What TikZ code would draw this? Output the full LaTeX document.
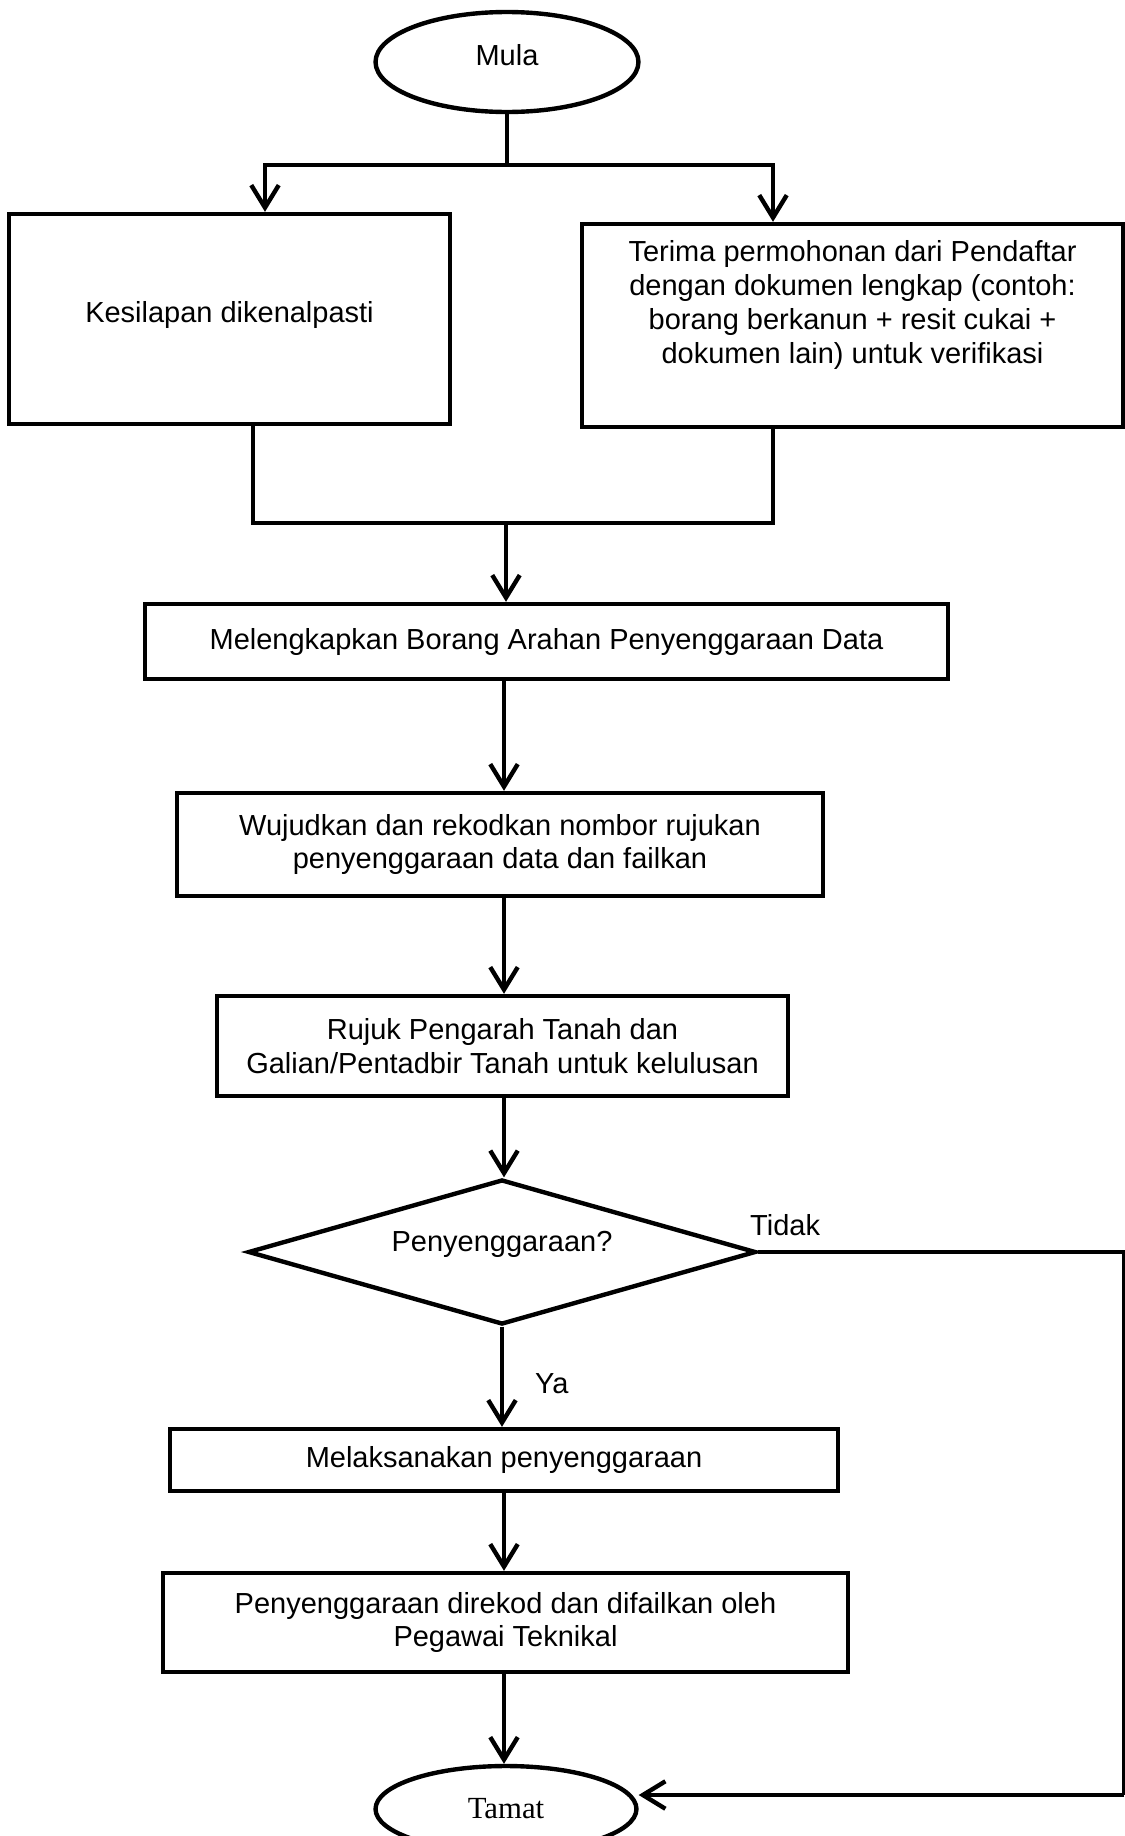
\documentclass[tikz,border=0pt]{standalone}
\usepackage{fontspec}
\setmainfont{Liberation Sans}
\newfontfamily\serifteks{Liberation Serif}
\usetikzlibrary{shapes.geometric,arrows.meta}
\begin{document}
\begin{tikzpicture}[x=0.02cm, y=-0.02cm, line width=2.5pt,
    >={Straight Barb[length=4.5mm,width=5.5mm]},
    every node/.style={font=\fontsize{16.5}{19.3}\selectfont},
    kotak/.style={draw, rectangle, align=center, inner sep=0pt},
    bujur/.style={draw, ellipse, inner sep=0pt},
    pilih/.style={draw, diamond, inner sep=0pt, shape aspect=3.5}]
\useasboundingbox (0,0) rectangle (1125,1836);

% mula dan dua cabang
\node[bujur, minimum width=5.26cm, minimum height=2cm, text depth=0.28cm] (mula) at (507,62) {Mula};
\node[kotak, minimum width=8.82cm, minimum height=4.2cm, text depth=0.27cm] (kesilapan) at (229.5,319) {Kesilapan dikenalpasti};
\node[kotak, minimum width=10.82cm, minimum height=4.06cm] (terima) at (852.5,325.5) {};
\node[align=center] (terimateks) at (852.5,305) {Terima permohonan dari Pendaftar\\dengan dokumen lengkap (contoh:\\borang berkanun + resit cukai +\\dokumen lain) untuk verifikasi};

% aliran utama
\node[kotak, minimum width=16.06cm, minimum height=1.5cm] (borang) at (546.5,641.5) {Melengkapkan Borang Arahan Penyenggaraan Data};
\node[kotak, minimum width=12.92cm, minimum height=2.06cm] (rujukan) at (500,844.5) {Wujudkan dan rekodkan nombor rujukan\\penyenggaraan data dan failkan};
\node[kotak, minimum width=11.42cm, minimum height=2cm] (rujuk) at (502.5,1046) {Rujuk Pengarah Tanah dan\\Galian/Pentadbir Tanah untuk kelulusan};
\node[pilih, minimum width=10.16cm, minimum height=2.9cm, text depth=0.44cm] (semak) at (502,1252) {Penyenggaraan?};
\node[kotak, minimum width=13.36cm, minimum height=1.24cm] (laksana) at (504,1460) {Melaksanakan penyenggaraan};
\node[kotak, minimum width=13.7cm, minimum height=1.98cm] (failkan) at (505.5,1622.5) {Penyenggaraan direkod dan difailkan oleh\\Pegawai Teknikal};
\node[bujur, minimum width=5.22cm, minimum height=1.72cm, font=\serifteks\fontsize{17.5}{20}\selectfont] (tamat) at (506,1809) {Tamat};

\node[anchor=south west, inner sep=0pt] (tidak) at (748,1238) {Tidak};
\node[anchor=west, inner sep=0pt] (ya) at (533,1384) {Ya};

\coordinate (pecahkiri) at (265,165);
\coordinate (pecahkanan) at (773,165);
\coordinate (kirike) at (253,523);
\coordinate (kananke) at (773,523);
\coordinate (gabung) at (506,523);
\coordinate (paksi) at (504,0);
\coordinate (sudut1) at (1124,1252);
\coordinate (sudut2) at (1124,1795);

% penyambung
\draw (mula.south) -- (mula.south |- pecahkiri);
\draw[->] (mula.south |- pecahkiri) -- (pecahkiri) -- (pecahkiri |- kesilapan.north);
\draw[->] (mula.south |- pecahkiri) -- (pecahkanan) -- (pecahkanan |- terima.north);
\draw (kesilapan.south -| kirike) -- (kirike) -- (kananke) -- (terima.south -| kananke);
\draw[->] (gabung) -- (borang.north -| gabung);
\draw[->] (borang.south -| paksi) -- (rujukan.north -| paksi);
\draw[->] (rujukan.south -| paksi) -- (rujuk.north -| paksi);
\draw[->] (rujuk.south -| paksi) -- (semak.north -| paksi);
\draw[->] (semak.south) -- (laksana.north -| semak.south);
\draw[->] (laksana.south -| paksi) -- (failkan.north -| paksi);
\draw[->] (failkan.south -| paksi) -- (tamat.north -| paksi);
\draw (semak.east) -- (sudut1) -- (sudut2);
\draw[->] (sudut2) -- (tamat.east |- sudut2);
\end{tikzpicture}
\end{document}
